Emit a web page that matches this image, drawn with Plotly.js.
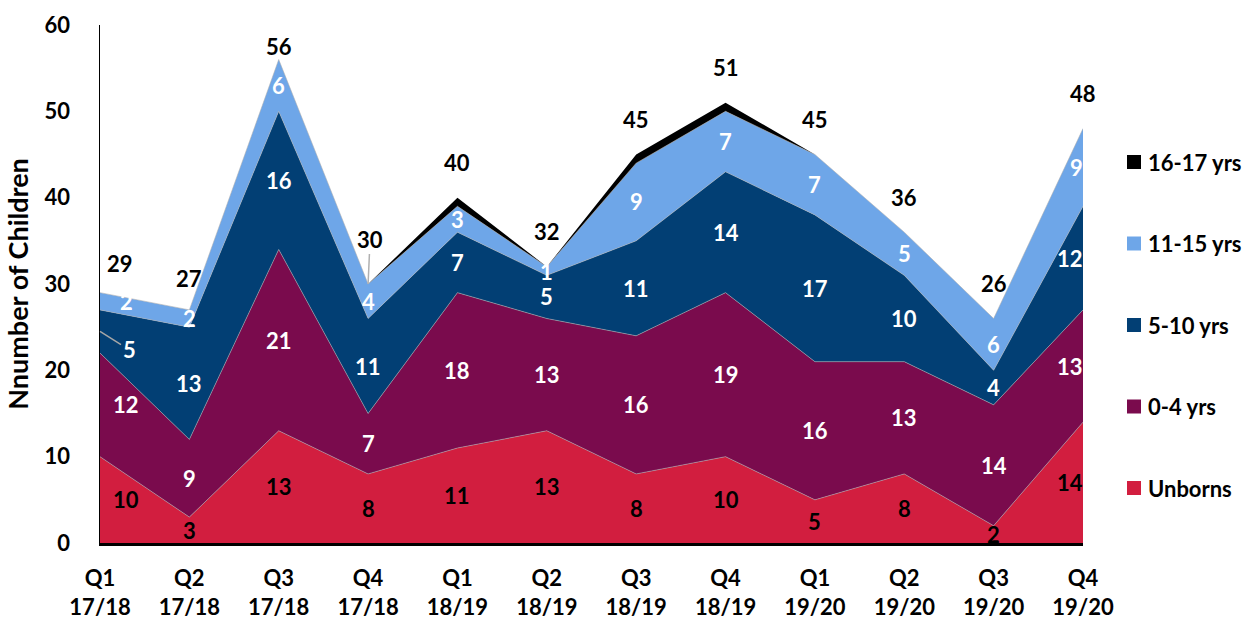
<!DOCTYPE html>
<html>
<head>
<meta charset="utf-8">
<script src="https://cdn.plot.ly/plotly-3.0.1.min.js"></script>
<style>
  html, body { margin: 0; padding: 0; background: #ffffff; }
  #chart { width: 1249px; height: 618px; }
</style>
</head>
<body>
<div id="chart"></div>
<script>
// ---- Data ----
const quarters = ['Q1', 'Q2', 'Q3', 'Q4', 'Q1', 'Q2', 'Q3', 'Q4', 'Q1', 'Q2', 'Q3', 'Q4'];
const years = ['17/18', '17/18', '17/18', '17/18', '18/19', '18/19', '18/19', '18/19', '19/20', '19/20', '19/20', '19/20'];

const unborns   = [10, 3, 13, 8, 11, 13, 8, 10, 5, 8, 2, 14];
const age0to4   = [12, 9, 21, 7, 18, 13, 16, 19, 16, 13, 14, 13];
const age5to10  = [5, 13, 16, 11, 7, 5, 11, 14, 17, 10, 4, 12];
const age11to15 = [2, 2, 6, 4, 3, 1, 9, 7, 7, 5, 6, 9];
const age16to17 = [0, 0, 0, 0, 1, 0, 1, 1, 0, 0, 0, 0];
const totals    = [29, 27, 56, 30, 40, 32, 45, 51, 45, 36, 26, 48];

const seriesNames  = ['Unborns', '0-4 yrs', '5-10 yrs', '11-15 yrs', '16-17 yrs'];
const seriesValues = [unborns, age0to4, age5to10, age11to15, age16to17];
const seriesColors = ['#D21E3F', '#7A0B4D', '#023F74', '#6EA6E8', '#000000'];
const labelColors  = ['#000000', '#ffffff', '#ffffff', '#ffffff', null];

const tickLabels = quarters.map((q, i) => q + '<br>' + years[i]);
const xIdx = quarters.map((_, i) => i);

// ---- Layout geometry ----
const W = 1249, H = 618;
const M = { l: 100, r: 166, t: 25, b: 75 };
const plotH = H - M.t - M.b;
const yMax = 60;
const pxPerUnit = plotH / yMax;
const FONT = 'Lato, "Open Sans", "DejaVu Sans", sans-serif';

// ---- Traces ----
const traces = seriesNames.map((name, s) => ({
  type: 'scatter',
  mode: 'lines',
  name: name,
  x: xIdx,
  y: seriesValues[s],
  stackgroup: 'one',
  fillcolor: seriesColors[s],
  line: s === 4 ? { width: 0, color: seriesColors[s] } : { width: 0.8, color: 'rgba(175,175,175,0.7)' },
  showlegend: false,
  hoverinfo: 'skip'
}));

// ---- Data labels (centre of each band) ----
const annotations = [];
const base = xIdx.map(() => 0);
seriesValues.forEach((vals, s) => {
  vals.forEach((v, i) => {
    const mid = base[i] + v / 2;
    base[i] += v;
    if (labelColors[s] === null) return;
    const a = {
      x: i, y: mid, xref: 'x', yref: 'y',
      text: String(v), showarrow: false,
      font: { family: FONT, size: 22, color: labelColors[s], weight: 700 },
      xanchor: 'center', yanchor: 'middle'
    };
    if (i === 0) a.xshift = 26;
    if (i === xIdx.length - 1) { a.xanchor = 'right'; a.xshift = 2; }
    // label moved off its point with a leader line
    if (s === 2 && i === 0) {
      delete a.xshift;
      a.showarrow = true; a.arrowhead = 0; a.arrowwidth = 1.5;
      a.arrowcolor = '#a6a6a6'; a.ax = 29; a.ay = 18; a.standoff = 0;
    }
    annotations.push(a);
  });
});

// ---- Total labels above the stack ----
totals.forEach((t, i) => {
  const a = {
    x: i, y: t, xref: 'x', yref: 'y',
    text: String(t), showarrow: false,
    font: { family: FONT, size: 22, color: '#000000', weight: 700 },
    xanchor: 'center', yanchor: 'middle'
  };
  const maxShift = (yMax - t) * pxPerUnit - 22;
  a.yshift = Math.min(35, maxShift);
  if (i === 0) { a.xshift = 20; a.yshift = 29; }
  if (i === 1) a.yshift = 31;
  if (i === 3) {
    delete a.yshift;
    a.showarrow = true; a.arrowhead = 0; a.arrowwidth = 1.5;
    a.arrowcolor = '#b0b0b0'; a.ax = 2; a.ay = -45; a.standoff = 0;
  }
  annotations.push(a);
});

// ---- Legend (drawn manually, Excel style squares) ----
const shapes = [];
const plotW = W - M.l - M.r;
const legendOrder = [4, 3, 2, 1, 0];
const legY0 = (H - M.b - 162) / plotH;
const legStep = 81.5 / plotH;
const sq = 14;
legendOrder.forEach((s, k) => {
  const yc = legY0 - k * legStep;
  const x0 = (1127 - M.l) / plotW;
  const x1 = x0 + sq / plotW;
  shapes.push({
    type: 'rect', xref: 'paper', yref: 'paper',
    x0: x0, x1: x1, y0: yc - (sq / 2) / plotH, y1: yc + (sq / 2) / plotH,
    fillcolor: seriesColors[s], line: { width: 0 }
  });
  annotations.push({
    xref: 'paper', yref: 'paper', x: (1146 - M.l) / plotW, y: yc,
    text: seriesNames[s], showarrow: false,
    xanchor: 'left', yanchor: 'middle',
    font: { family: FONT, size: 22, color: '#000000', weight: 700 }
  });
});

const layout = {
  width: W, height: H,
  margin: M,
  paper_bgcolor: '#ffffff', plot_bgcolor: '#ffffff',
  showlegend: false,
  font: { family: FONT, color: '#000000' },
  xaxis: {
    range: [0, xIdx.length - 1],
    tickmode: 'array', tickvals: xIdx, ticktext: tickLabels,
    tickfont: { family: FONT, size: 22, color: '#000000', weight: 700 },
    showgrid: false, zeroline: false,
    showline: true, linecolor: '#000000', linewidth: 2.5,
    ticks: '', ticklabelstandoff: 14,
    automargin: false, fixedrange: true
  },
  yaxis: {
    range: [0, yMax], dtick: 10,
    tickfont: { family: FONT, size: 22, color: '#000000', weight: 700 },
    showgrid: false, zeroline: false,
    showline: true, linecolor: '#000000', linewidth: 1.5,
    ticks: '', ticklabelstandoff: 24,
    title: { text: 'Nnumber of Children', font: { family: FONT, size: 27, color: '#000000', weight: 700 }, standoff: 8 },
    automargin: false, fixedrange: true
  },
  annotations: annotations,
  shapes: shapes
};

Plotly.newPlot('chart', traces, layout, { displayModeBar: false, staticPlot: true });
</script>
</body>
</html>
